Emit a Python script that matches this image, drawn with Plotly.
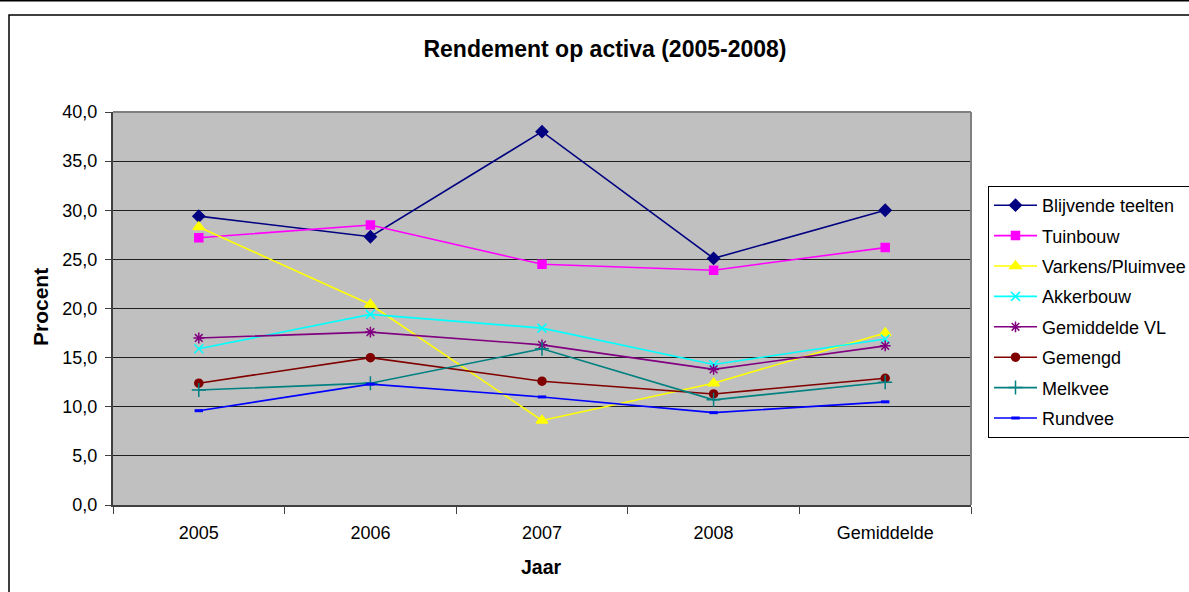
import plotly.graph_objects as go

categories = ["2005", "2006", "2007", "2008", "Gemiddelde"]
blijvende_teelten = [29.4, 27.3, 38.0, 25.1, 30.0]
tuinbouw = [27.2, 28.5, 24.5, 23.9, 26.2]
varkens_pluimvee = [28.3, 20.4, 8.6, 12.4, 17.5]
akkerbouw = [15.9, 19.4, 18.0, 14.3, 16.9]
gemiddelde_vl = [17.0, 17.6, 16.3, 13.8, 16.2]
gemengd = [12.4, 15.0, 12.6, 11.3, 12.9]
melkvee = [11.7, 12.4, 15.9, 10.7, 12.5]
rundvee = [9.6, 12.3, 11.0, 9.4, 10.5]

series = [
    ("Blijvende teelten", blijvende_teelten, "#000080", "diamond", 9),
    ("Tuinbouw", tuinbouw, "#FF00FF", "square", 8),
    ("Varkens/Pluimvee", varkens_pluimvee, "#FFFF00", "triangle-up", 10),
    ("Akkerbouw", akkerbouw, "#00FFFF", "x-thin-open", 9),
    ("Gemiddelde VL", gemiddelde_vl, "#800080", "asterisk-open", 9),
    ("Gemengd", gemengd, "#800000", "circle", 8),
    ("Melkvee", melkvee, "#008080", "cross-thin-open", 10),
    ("Rundvee", rundvee, "#0000FF", "line-ew-open", 6),
]

FONT = "Arial, Liberation Sans, sans-serif"

fig = go.Figure()
for i, (name, vals, color, sym, size) in enumerate(series):
    lw = 3 if sym == "line-ew-open" else 1.5
    fig.add_trace(go.Scatter(
        x=categories, y=vals, name=name, mode="lines+markers",
        legendgroup=f"g{i}",
        line=dict(color=color, width=1.6),
        marker=dict(symbol=sym, size=size, color=color,
                    line=dict(color=color, width=lw)),
    ))

W, H = 1189, 592
L, R, T, B = 113, 971, 112, 505
pw, ph = R - L, B - T

def px(x):
    return (x - L) / pw

def py(y):
    return (B - y) / ph

fig.update_layout(
    width=W, height=H,
    margin=dict(l=L, r=W - R, t=T, b=H - B, autoexpand=False),
    paper_bgcolor="white",
    plot_bgcolor="#C0C0C0",
    separators=",.",
    font=dict(family=FONT, size=18, color="black"),
    title=dict(text="<b>Rendement op activa (2005-2008)</b>",
               x=605 / W, xanchor="center", xref="container",
               y=1 - 49 / H, yanchor="middle", yref="container",
               font=dict(size=23, family=FONT, color="black")),
    showlegend=True,
    legend=dict(x=px(988), xanchor="left", y=py(186), yanchor="top",
                bgcolor="white", bordercolor="black", borderwidth=1,
                font=dict(size=18, family=FONT, color="black"),
                tracegroupgap=4, itemwidth=43,
                traceorder="grouped"),
    xaxis=dict(
        type="category", range=[-0.5, 4.5],
        showgrid=False, showline=True, linecolor="#404040", linewidth=2,
        ticks="outside", ticklen=7, tickcolor="#404040", tickwidth=1,
        tickson="boundaries", ticklabelstandoff=10,
        tickfont=dict(size=18, family=FONT),
        zeroline=False,
    ),
    yaxis=dict(
        range=[0, 40], dtick=5, tickformat=".1f",
        showgrid=True, gridcolor="#202020", gridwidth=1,
        showline=True, linecolor="#404040", linewidth=2,
        ticks="outside", ticklen=6, tickcolor="#404040", tickwidth=1,
        ticklabelstandoff=4,
        tickfont=dict(size=18, family=FONT),
        zeroline=False,
    ),
)

# gray top/right plot border
fig.add_shape(type="line", xref="paper", yref="paper", x0=0, x1=1, y0=1, y1=1,
              line=dict(color="#808080", width=2))
fig.add_shape(type="line", xref="paper", yref="paper", x0=1, x1=1, y0=0, y1=1,
              line=dict(color="#808080", width=2))

# outer chart frame
fig.add_shape(type="rect", xref="paper", yref="paper",
              x0=px(9), x1=px(1210), y0=py(620), y1=py(15),
              line=dict(color="black", width=1.5), layer="below")
fig.add_shape(type="line", xref="paper", yref="paper",
              x0=px(-5), x1=px(1200), y0=py(0.5), y1=py(0.5),
              line=dict(color="black", width=2))

fig.add_annotation(text="<b>Procent</b>", xref="paper", yref="paper",
                   x=px(40), y=py(307), textangle=-90, showarrow=False,
                   xanchor="center", yanchor="middle",
                   font=dict(size=21, family=FONT, color="black"))
fig.add_annotation(text="<b>Jaar</b>", xref="paper", yref="paper",
                   x=px(541), y=py(567), showarrow=False,
                   xanchor="center", yanchor="middle",
                   font=dict(size=19.5, family=FONT, color="black"))

fig.write_html("out.html",
               config={"displayModeBar": False},
               post_script="document.body.style.margin='0px';document.body.style.overflow='hidden';")
